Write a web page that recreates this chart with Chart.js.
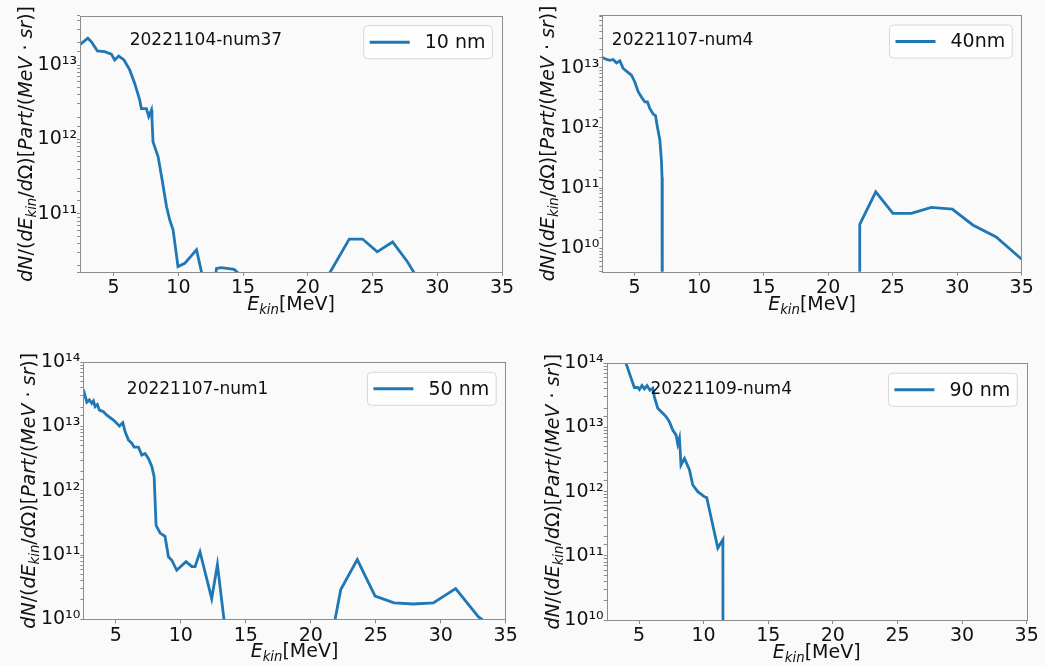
<!DOCTYPE html>
<html>
<head>
<meta charset="utf-8">
<script src="https://cdn.jsdelivr.net/npm/chart.js@4.4.0/dist/chart.umd.min.js"></script>
<style>
body { margin: 0; background: #fafafa; width: 1045px; height: 666px; position: relative; overflow: hidden; }
canvas { position: absolute; }
</style>
</head>
<body>
<canvas id="c1" style="left:0;top:0" width="520" height="330"></canvas>
<canvas id="c2" style="left:520px;top:0" width="525" height="330"></canvas>
<canvas id="c3" style="left:0;top:330px" width="520" height="336"></canvas>
<canvas id="c4" style="left:520px;top:330px" width="525" height="336"></canvas>
<script>
// x tick labels (MeV)
var xTicks = [5, 10, 15, 20, 25, 30, 35];

// 20221104-num37, 10 nm
var e10 = [2.37, 3.01, 3.28, 3.74, 4.30, 4.82, 5.08, 5.39, 5.80, 6.24, 6.62, 7.01, 7.14, 7.53, 7.71, 7.92, 7.96, 8.04, 8.43, 8.74, 9.08, 9.33, 9.59, 9.97, 10.49, 11.40, 12.2, 12.45, 12.95, 13.3, 14.3, 14.55, 15.0, 16.2, 17.5, 18.8, 20.0, 21.0, 23.2, 24.23, 25.36, 26.55, 27.68, 28.8, 30.0, 31.2, 32.5, 33.8, 35.0];
var n10 = [1.86e13, 2.29e13, 2.05e13, 1.55e13, 1.51e13, 1.40e13, 1.17e13, 1.32e13, 1.17e13, 8.6e12, 5.7e12, 3.4e12, 2.6e12, 2.6e12, 2.04e12, 2.5e12, 1.9e12, 9.3e11, 5.9e11, 2.9e11, 1.27e11, 8.3e10, 6.1e10, 1.96e10, 2.17e10, 3.3e10, 8e9, 5e9, 1.85e10, 1.9e10, 1.8e10, 1.65e10, 3e9, 1e8, 1e8, 1e8, 1e8, 1.0e10, 4.6e10, 4.6e10, 3.1e10, 4.2e10, 2.3e10, 1.1e10, 1e8, 1e8, 1e8, 1e8, 1e8];

// 20221107-num4, 40nm
var e40 = [2.5, 2.83, 3.09, 3.34, 3.60, 3.86, 4.12, 4.51, 4.76, 5.02, 5.28, 5.59, 5.80, 6.00, 6.18, 6.44, 6.62, 6.77, 6.96, 7.08, 7.13, 7.15, 10, 15, 20, 22.43, 22.45, 23.69, 25.02, 26.45, 27.99, 29.62, 31.21, 33.02, 35.0, 35.02];
var n40 = [1.48e13, 1.37e13, 1.33e13, 1.37e13, 1.2e13, 1.3e13, 9.7e12, 8.3e12, 7.5e12, 5.8e12, 4.0e12, 3.1e12, 2.7e12, 2.7e12, 2.1e12, 1.7e12, 1.6e12, 1.04e12, 6.3e11, 2.9e11, 1.5e11, 1e5, 1e5, 1e5, 1e5, 1e5, 2.5e10, 8.7e10, 3.8e10, 3.8e10, 4.8e10, 4.5e10, 2.45e10, 1.55e10, 6.6e9, 1e5];

// 20221107-num1, 50 nm
var e50 = [2.5, 2.77, 2.97, 3.15, 3.28, 3.41, 3.58, 3.74, 4.05, 4.31, 4.82, 5.28, 5.54, 5.72, 5.97, 6.23, 6.41, 6.74, 7.00, 7.25, 7.51, 7.77, 7.95, 8.10, 8.41, 8.79, 9.05, 9.31, 9.69, 9.95, 10.41, 10.85, 11.10, 11.48, 12.38, 12.82, 13.5, 15, 17, 19, 21.0, 22.31, 23.58, 24.95, 26.41, 27.89, 29.43, 31.15, 32.89, 34.6, 36];
var n50 = [3.8e13, 2.4e13, 2.6e13, 2.3e13, 2.5e13, 2.04e13, 2.2e13, 1.8e13, 1.7e13, 1.5e13, 1.26e13, 1.02e13, 1.15e13, 8.3e12, 6.2e12, 5.5e12, 4.8e12, 4.8e12, 3.6e12, 3.8e12, 3.2e12, 2.4e12, 1.66e12, 2.9e11, 2.2e11, 1.95e11, 9.4e10, 8.3e10, 5.8e10, 6.5e10, 7.9e10, 6.6e10, 6.6e10, 1.12e11, 2.1e10, 7.1e10, 5e9, 1e8, 1e8, 1e8, 1.2e9, 2.9e10, 8.5e10, 2.3e10, 1.8e10, 1.73e10, 1.8e10, 3.0e10, 1.1e10, 6e9, 3e9];

// 20221109-num4, 90 nm
var e90 = [2.5, 3.2, 3.7, 4.30, 4.64, 4.90, 5.03, 5.23, 5.42, 5.62, 5.85, 6.06, 6.19, 6.45, 6.84, 7.09, 7.35, 7.61, 7.87, 8.00, 8.13, 8.25, 8.52, 8.90, 9.16, 9.55, 10.07, 10.24, 10.71, 11.10, 11.49, 11.52, 20, 35];
var n90 = [6e14, 3e14, 1.5e14, 6.6e13, 4.2e13, 4.2e13, 3.9e13, 4.5e13, 4.0e13, 4.5e13, 3.8e13, 4.1e13, 3.0e13, 2.0e13, 1.67e13, 1.48e13, 1.23e13, 9.1e12, 7.6e12, 5.5e12, 6.8e12, 2.6e12, 3.3e12, 2.2e12, 1.27e12, 1.0e12, 8.3e11, 8.1e11, 3.0e11, 1.32e11, 1.78e11, 1e5, 1e5, 1e5];

var FONT = "'DejaVu Sans'";
var BLUE = '#1f77b4';
var SUP = {'0': '⁰', '1': '¹', '2': '²', '3': '³', '4': '⁴', '5': '⁵', '6': '⁶', '7': '⁷', '8': '⁸', '9': '⁹'};

var yTitle = [['dN', 'i'], ['/(', 'n'], ['dE', 'i'], ['kin', 's'], ['/', 'n'], ['d', 'i'], ['Ω)[', 'n'], ['Part', 'i'], ['/(', 'n'], ['MeV', 'i'], [' · ', 'n'], ['sr', 'i'], [')]', 'n']];
var xTitle = [['E', 'i'], ['kin', 's'], ['[MeV]', 'n']];

function partFont(p, size) {
  var sz = p[1] == 's' ? size * 0.7 : size;
  return (p[1] == 'n' ? '' : 'italic ') + sz + 'px ' + FONT;
}

function drawRich(ctx, parts, cx, y, size) {
  var w = 0;
  parts.forEach(function (p) { ctx.font = partFont(p, size); w += ctx.measureText(p[0]).width; });
  var x = cx - w / 2;
  ctx.textAlign = 'left';
  ctx.textBaseline = 'alphabetic';
  parts.forEach(function (p) {
    ctx.font = partFont(p, size);
    ctx.fillText(p[0], x, y + (p[1] == 's' ? size * 0.22 : 0));
    x += ctx.measureText(p[0]).width;
  });
}

// spines, legend box, note text and axis titles
var deco = {
  id: 'deco',
  afterDatasetsDraw: function (chart) {
    var ctx = chart.ctx, a = chart.chartArea;
    var o = chart.options.plugins.deco;
    ctx.save();
    ctx.fillStyle = '#111';

    // note
    ctx.font = '17px ' + FONT;
    ctx.textAlign = 'left';
    ctx.textBaseline = 'alphabetic';
    ctx.fillText(o.note, chart.scales.x.getPixelForValue(o.noteX), chart.scales.y.getPixelForValue(o.noteY));

    // legend
    ctx.font = '19px ' + FONT;
    var tw = ctx.measureText(o.label).width;
    var bw = 6 + 40 + 15 + tw + 7, bh = 33;
    var bx = a.right - 9.5 - bw, by = a.top + 10;
    ctx.beginPath();
    ctx.roundRect(bx, by, bw, bh, 4);
    ctx.fillStyle = 'rgba(255,255,255,0.8)';
    ctx.fill();
    ctx.strokeStyle = '#d6d6d6';
    ctx.lineWidth = 1;
    ctx.stroke();
    ctx.beginPath();
    ctx.moveTo(bx + 6, by + bh / 2);
    ctx.lineTo(bx + 46, by + bh / 2);
    ctx.strokeStyle = BLUE;
    ctx.lineWidth = 3;
    ctx.stroke();
    ctx.fillStyle = '#111';
    ctx.textBaseline = 'middle';
    ctx.fillText(o.label, bx + 61, by + bh / 2 + 1);

    // spines
    ctx.strokeStyle = '#8c8c8c';
    ctx.lineWidth = 1;
    ctx.strokeRect(Math.round(a.left) + 0.5, Math.round(a.top) + 0.5, Math.round(a.right - a.left), Math.round(a.bottom - a.top));

    // axis titles
    ctx.fillStyle = '#111';
    drawRich(ctx, xTitle, (a.left + a.right) / 2, a.bottom + 38, 19);
    ctx.translate(a.left - 48, (a.top + a.bottom) / 2);
    ctx.rotate(-Math.PI / 2);
    drawRich(ctx, yTitle, 0, 0, 19);
    ctx.restore();
  }
};

function panel(id, area, xMin, yMin, yMax, e, n, label, note) {
  var cv = document.getElementById(id);
  var W = cv.width, H = cv.height;
  var pts = e.map(function (x, i) { return {x: x, y: n[i]}; });
  new Chart(cv, {
    type: 'line',
    data: {
      datasets: [{
        data: pts,
        borderColor: BLUE,
        borderWidth: 2.8,
        pointRadius: 0,
        tension: 0,
        fill: false
      }]
    },
    options: {
      responsive: false,
      animation: false,
      layout: {padding: {left: 0, top: area[1], right: W - area[2], bottom: 0}},
      plugins: {
        legend: {display: false},
        tooltip: {enabled: false},
        deco: {label: label, note: note[0], noteX: note[1], noteY: note[2]}
      },
      scales: {
        x: {
          type: 'linear',
          min: xMin,
          max: 35,
          afterFit: function (s) { s.height = H - area[3]; },
          afterBuildTicks: function (s) { s.ticks = xTicks.map(function (v) { return {value: v}; }); },
          border: {display: false},
          grid: {drawOnChartArea: false, tickLength: 4, color: '#8c8c8c'},
          ticks: {color: '#111', font: {family: FONT, size: 19}, padding: 1, maxRotation: 0, autoSkip: false}
        },
        y: {
          type: 'logarithmic',
          min: yMin,
          max: yMax,
          afterFit: function (s) { s.width = area[0]; },
          border: {display: false},
          grid: {drawOnChartArea: false, tickLength: 3, color: '#8c8c8c'},
          ticks: {
            color: '#111',
            font: {family: FONT, size: 19},
            padding: 0,
            autoSkip: false,
            callback: function (v) {
              var l = Math.log10(v);
              if (Math.abs(l - Math.round(l)) > 1e-6) return '';
              return '10' + String(Math.round(l)).split('').map(function (c) { return SUP[c]; }).join('');
            }
          }
        }
      }
    },
    plugins: [deco]
  });
}

panel('c1', [80, 15.7, 502, 272], 2.4, 1.66e10, 4.6e13, e10, n10, '10 nm', ['20221104-num37', 6.24, 1.86e13]);
panel('c2', [82.3, 15, 501.7, 271.7], 2.5, 4.1e9, 7.5e13, e40, n40, '40nm', ['20221107-num4', 3.24, 2.4e13]);
panel('c3', [83.3, 32.3, 505.7, 289.3], 2.5, 1e10, 1e14, e50, n50, '50 nm', ['20221107-num1', 5.85, 3.2e13]);
panel('c4', [86.7, 33.3, 506.7, 290], 2.5, 1e10, 1e14, e90, n90, '90 nm', ['20221109-num4', 5.88, 3.3e13]);
</script>
</body>
</html>
